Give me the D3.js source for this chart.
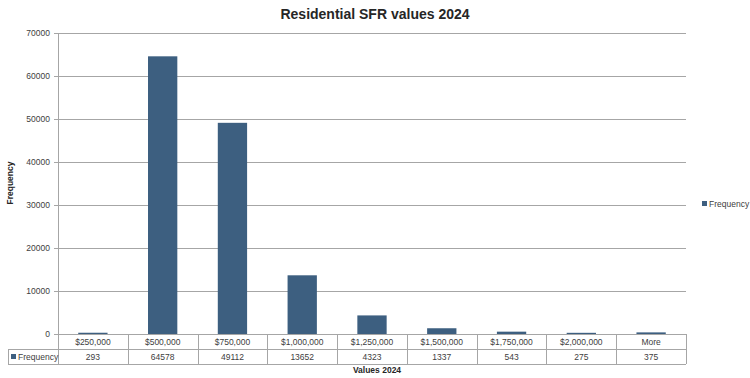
<!DOCTYPE html>
<html>
<head>
<meta charset="utf-8">
<script src="https://cdn.jsdelivr.net/npm/d3@7"></script>
<style>
  body { margin: 0; background: #fff; }
  svg { font-family: "Liberation Sans", Arial, sans-serif; }
</style>
</head>
<body>
<div id="chart"></div>
<script>
// data
const categories = ["$250,000", "$500,000", "$750,000", "$1,000,000", "$1,250,000",
                    "$1,500,000", "$1,750,000", "$2,000,000", "More"];
const frequency = [293, 64578, 49112, 13652, 4323, 1337, 543, 275, 375];
const yTicks = [0, 10000, 20000, 30000, 40000, 50000, 60000, 70000];

const W = 750, H = 378;
const m = { left: 58, right: 686, top: 33, bottom: 334 };
const barColor = "#3d5f80";
const lineColor = "#a6a6a6";

const svg = d3.select("#chart").append("svg")
    .attr("width", W).attr("height", H);

const x = d3.scaleBand().domain(categories).range([m.left, m.right]).paddingInner(0).paddingOuter(0);
const y = d3.scaleLinear().domain([0, 70000]).range([m.bottom, m.top]);

// gridlines + ticks
svg.append("g")
  .selectAll("line")
  .data(yTicks)
  .join("line")
    .attr("x1", m.left - 4).attr("x2", m.right)
    .attr("y1", d => Math.round(y(d)) + 0.5).attr("y2", d => Math.round(y(d)) + 0.5)
    .attr("stroke", lineColor).attr("stroke-width", 1);

svg.append("g")
  .selectAll("text")
  .data(yTicks)
  .join("text")
    .attr("x", m.left - 8)
    .attr("y", d => y(d))
    .attr("dy", "0.35em")
    .attr("text-anchor", "end")
    .style("font-size", "8.5px")
    .style("fill", "#404040")
    .text(d => d);

// y axis line
svg.append("line")
    .attr("x1", m.left + 0.5).attr("x2", m.left + 0.5)
    .attr("y1", m.top).attr("y2", m.bottom + 30)
    .attr("stroke", lineColor);

// bars
const bw = x.bandwidth() * 0.42;
svg.append("g")
  .selectAll("rect")
  .data(frequency)
  .join("rect")
    .attr("x", (d, i) => x(categories[i]) + (x.bandwidth() - bw) / 2)
    .attr("y", d => y(d))
    .attr("width", bw)
    .attr("height", d => m.bottom - y(d))
    .attr("fill", barColor);

// data table under the axis
const rowH = 15;
const r1 = m.bottom, r2 = m.bottom + rowH, r3 = m.bottom + 2 * rowH;
const tbl = svg.append("g").attr("stroke", lineColor).attr("stroke-width", 1);
tbl.append("line").attr("x1", 8).attr("x2", m.right).attr("y1", r2 + 0.5).attr("y2", r2 + 0.5);
tbl.append("line").attr("x1", 8).attr("x2", m.right).attr("y1", r3 + 0.5).attr("y2", r3 + 0.5);
tbl.append("line").attr("x1", 8.5).attr("x2", 8.5).attr("y1", r2).attr("y2", r3);
tbl.selectAll("line.col")
  .data(categories)
  .join("line")
    .attr("class", "col")
    .attr("x1", d => Math.round(x(d) + x.bandwidth()) + 0.5)
    .attr("x2", d => Math.round(x(d) + x.bandwidth()) + 0.5)
    .attr("y1", r1).attr("y2", r3);

svg.append("g")
  .selectAll("text")
  .data(categories)
  .join("text")
    .attr("x", d => x(d) + x.bandwidth() / 2)
    .attr("y", r1 + rowH / 2 + 1)
    .attr("dy", "0.35em")
    .attr("text-anchor", "middle")
    .style("font-size", "8.5px")
    .style("fill", "#404040")
    .text(d => d);

svg.append("g")
  .selectAll("text")
  .data(frequency)
  .join("text")
    .attr("x", (d, i) => x(categories[i]) + x.bandwidth() / 2)
    .attr("y", r2 + rowH / 2 + 1)
    .attr("dy", "0.35em")
    .attr("text-anchor", "middle")
    .style("font-size", "8.5px")
    .style("fill", "#404040")
    .text(d => d);

// legend key in the table
svg.append("rect").attr("x", 11).attr("y", r2 + 5).attr("width", 5).attr("height", 5).attr("fill", barColor);
svg.append("text").attr("x", 18).attr("y", r2 + rowH / 2 + 1).attr("dy", "0.35em")
    .style("font-size", "8.5px").style("fill", "#404040").text("Frequency");

// legend on the right
svg.append("rect").attr("x", 702).attr("y", 201).attr("width", 5).attr("height", 5).attr("fill", barColor);
svg.append("text").attr("x", 709).attr("y", 204).attr("dy", "0.35em")
    .style("font-size", "8.5px").style("fill", "#404040").text("Frequency");

// titles
svg.append("text")
    .attr("x", 375).attr("y", 19)
    .attr("text-anchor", "middle")
    .style("font-size", "14px").style("font-weight", "bold").style("fill", "#262626")
    .text("Residential SFR values 2024");

svg.append("text")
    .attr("x", 377).attr("y", 373)
    .attr("text-anchor", "middle")
    .style("font-size", "8.5px").style("font-weight", "bold").style("fill", "#262626")
    .text("Values 2024");

svg.append("text")
    .attr("transform", "translate(13,183) rotate(-90)")
    .attr("text-anchor", "middle")
    .style("font-size", "8.5px").style("font-weight", "bold").style("fill", "#262626")
    .text("Frequency");
</script>
</body>
</html>
